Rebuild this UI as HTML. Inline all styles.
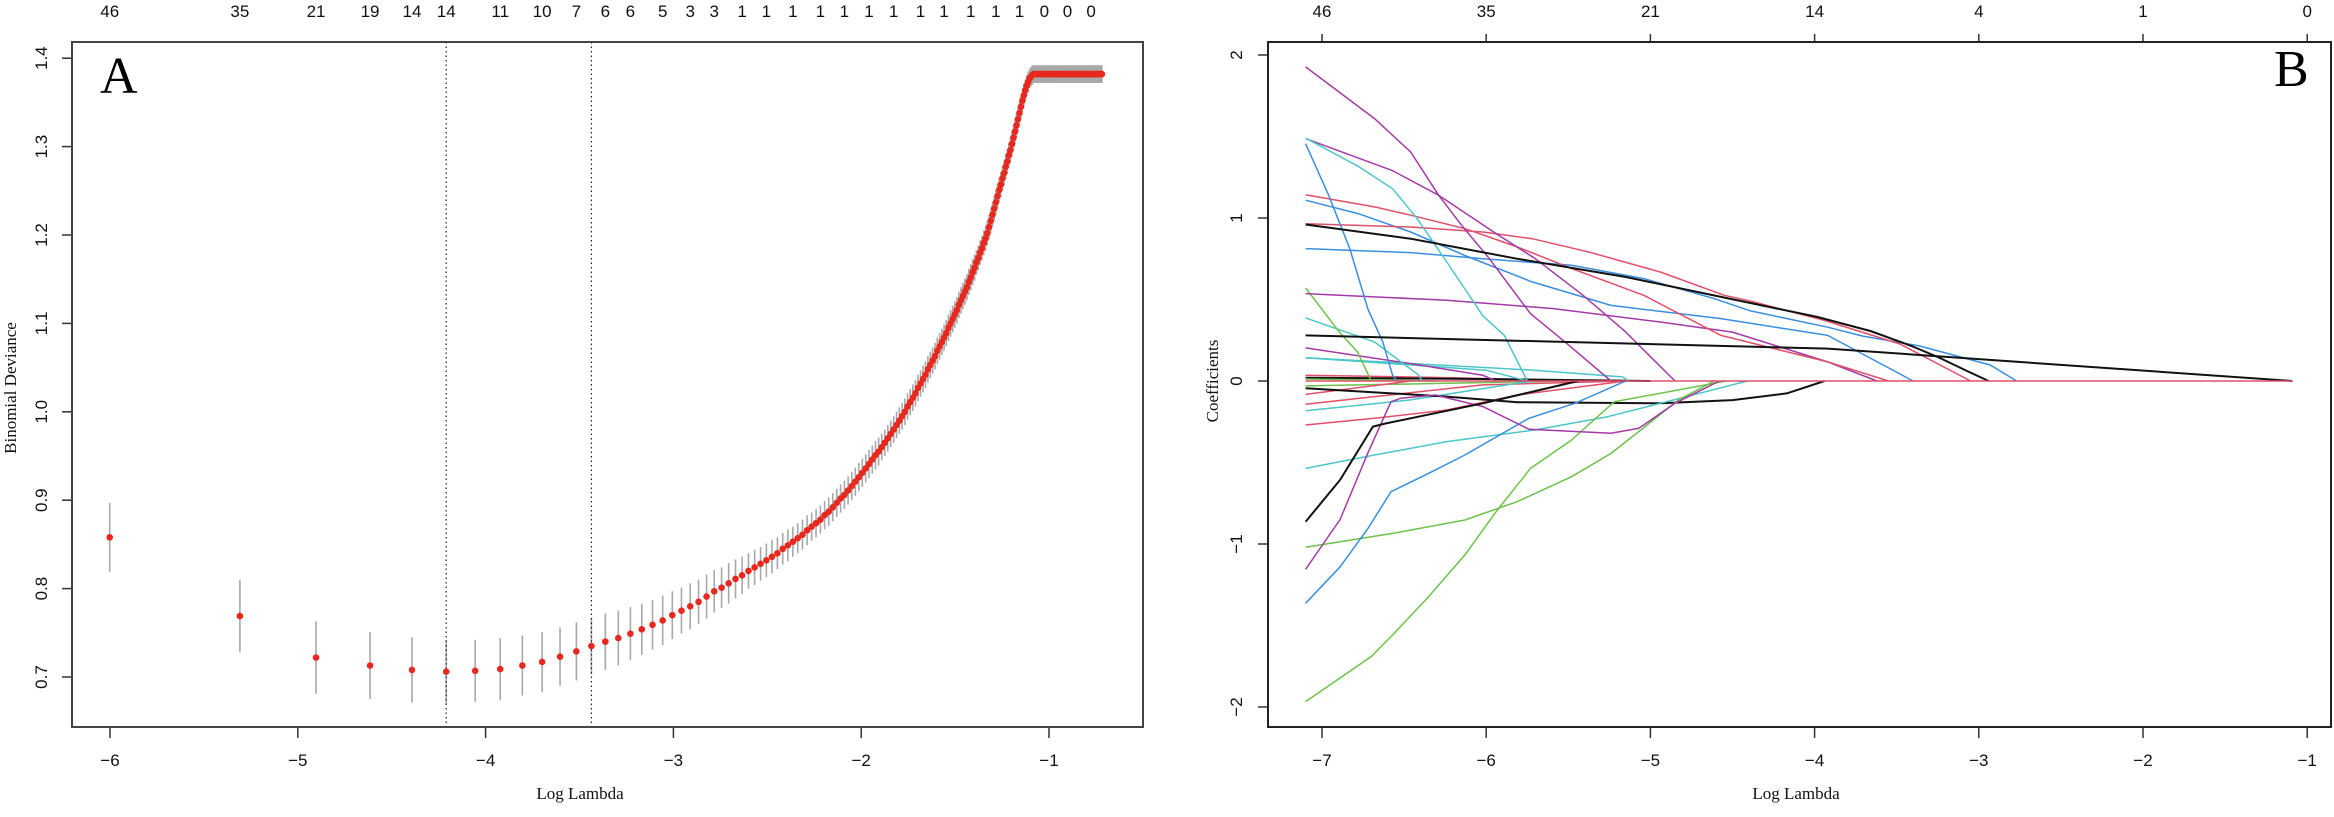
<!DOCTYPE html>
<html><head><meta charset="utf-8"><style>
html,body{margin:0;padding:0;background:#fff;}
svg{display:block;}
.tk{font-family:"Liberation Sans",sans-serif;font-size:17px;fill:#111;}
.tt{font-family:"Liberation Serif",serif;font-size:17px;fill:#111;}
</style></head><body>
<svg id="chart" width="2334" height="817" viewBox="0 0 2334 817" xmlns="http://www.w3.org/2000/svg">
<rect width="2334" height="817" fill="#fff"/>
<g id="pa"></g>
<g id="pb"></g>
</svg>
<script>
// ---------- Panel A data ----------
const lambdaStep = 0.002475;
const devTicks = [0.7,0.8,0.9,1.0,1.1,1.2,1.3,1.4];
const devTickLabels = ["0.7","0.8","0.9","1.0","1.1","1.2","1.3","1.4"];
const logLambdaTicksA = [-6,-5,-4,-3,-2,-1];
const deviance = [
.858,.769,.722,.713,.708,.706,.707,.709,.713,.717,.723,.729,.735,.740,.744,.749,.754,.759,.764,.770,
.775,.780,.785,.791,.797,.801,.806,.811,.815,.820,.824,.828,.832,.836,.840,.845,.849,.853,.857,.861,
.866,.870,.874,.878,.883,.887,.892,.897,.902,.906,.911,.916,.921,.926,.931,.936,.941,.946,.951,.955,
.960,.965,.970,.975,.980,.985,.990,.995,1.000,1.006,1.011,1.016,1.021,1.027,1.032,1.037,1.042,1.048,1.053,1.058,
1.063,1.069,1.074,1.079,1.084,1.089,1.095,1.100,1.105,1.110,1.115,1.121,1.126,1.131,1.136,1.141,1.147,1.152,1.158,1.163,
1.169,1.174,1.180,1.185,1.191,1.196,1.202,1.209,1.216,1.223,1.230,1.237,1.244,1.251,1.257,1.264,1.270,1.277,1.283,1.290,
1.296,1.303,1.310,1.317,1.324,1.331,1.338,1.345,1.352,1.358,1.364,1.369,1.373,1.377,1.379,1.381,1.382,1.382,1.382,1.382,
1.382,1.382,1.382,1.382,1.382,1.382,1.382,1.382,1.382,1.382,1.382,1.382,1.382,1.382,1.382,1.382,1.382,1.382,1.382,1.382,
1.382,1.382,1.382,1.382,1.382,1.382,1.382,1.382,1.382,1.382,1.382,1.382,1.382,1.382,1.382,1.382,1.382,1.382,1.382,1.382,
1.382,1.382,1.382,1.382,1.382,1.382,1.382,1.382,1.382,1.382,1.382,1.382,1.382,1.382,1.382,1.382,1.382];
const devSE = [
.039,.041,.041,.038,.037,.036,.035,.035,.034,.034,.033,.033,.032,.032,.031,.030,.029,.028,.028,.027,
.026,.026,.025,.025,.024,.023,.023,.022,.021,.020,.020,.019,.019,.019,.018,.018,.018,.017,.017,.017,
.017,.016,.016,.016,.016,.016,.016,.016,.016,.016,.016,.016,.016,.016,.016,.016,.016,.016,.016,.016,
.015,.015,.015,.015,.015,.015,.015,.015,.015,.015,.015,.015,.015,.015,.015,.015,.015,.015,.015,.015,
.015,.015,.015,.015,.015,.015,.015,.015,.015,.015,.015,.015,.015,.015,.015,.015,.015,.015,.015,.015,
.014,.014,.014,.014,.014,.014,.014,.014,.014,.014,.014,.014,.014,.014,.014,.014,.014,.014,.014,.014,
.014,.014,.014,.014,.014,.014,.013,.013,.013,.013,.012,.012,.012,.011,.011,.011,.010,.010,.010,.010,
.010,.010,.010,.010,.010,.010,.010,.010,.010,.010,.010,.010,.010,.010,.010,.010,.010,.010,.010,.010,
.010,.010,.010,.010,.010,.010,.010,.010,.010,.010,.010,.010,.010,.010,.010,.010,.010,.010,.010,.010,
.010,.010,.010,.010,.010,.010,.010,.010,.010,.010,.010,.010,.010,.010,.010,.010,.010];
const topIdxA = [1,2,3,4,5,6,8,10,12,14,16,19,22,25,29,33,38,44,50,57,65,75,85,98,112,127,145,164,186];
const topLabelsA = ["46","35","21","19","14","14","11","10","7","6","6","5","3","3","1","1","1","1","1","1","1","1","1","1","1","1","0","0","0"];
const lambdaMinIdx = 6;
const lambda1seIdx = 13;

// ---------- Panel B data ----------
const coefTicks = [-2,-1,0,1,2];
const coefTickLabels = ["\u22122","\u22121","0","1","2"];
const logLambdaTicksB = [-7,-6,-5,-4,-3,-2,-1];
const topLabelsB = ["46","35","21","14","4","1","0"];
const cBlack="#111", cRed="#E0506A", cGreen="#6CC24A", cBlue="#3A8EE0", cCyan="#4CC6C9", cPurple="#A33AA5";
const pathColors = [];
const pathL = [];
const pathC = [];
function addPath(col, L, C){ pathColors.push(col); pathL.push(L); pathC.push(C); }
// near-zero paths first (drawn underneath)
addPath(cGreen,[-7.1,-5.5],[-0.03,0]);
addPath(cRed,[-7.1,-6.46],[-0.082,0]);
addPath(cRed,[-7.1,-6.68,-6.02,-5.15],[-0.143,-0.096,-0.024,0]);
addPath(cCyan,[-7.1,-6.46,-5.81,-5.7],[-0.182,-0.116,-0.014,0]);
addPath(cRed,[-7.1,-6.68,-6.24,-5.81,-5.15],[-0.27,-0.229,-0.178,-0.086,0]);
addPath(cBlack,[-7.1,-6.24,-5.81,-4.94,-4.50,-4.17,-3.94],[-0.045,-0.096,-0.13,-0.137,-0.117,-0.076,0]);
addPath(cCyan,[-7.1,-6.68,-6.24,-5.70,-5.26,-4.94,-4.41],[-0.536,-0.454,-0.372,-0.30,-0.219,-0.137,0]);
addPath(cGreen,[-7.1,-6.57,-6.13,-5.81,-5.48,-5.24,-5.02,-4.83,-4.61],[-1.02,-0.935,-0.853,-0.74,-0.587,-0.444,-0.27,-0.116,0]);
addPath(cGreen,[-7.1,-6.70,-6.57,-6.35,-6.13,-5.94,-5.73,-5.48,-5.22,-4.61,-4.54],[-1.967,-1.69,-1.558,-1.323,-1.067,-0.802,-0.536,-0.362,-0.127,-0.014,0]);
addPath(cBlue,[-7.1,-6.89,-6.72,-6.58,-6.35,-6.13,-5.74,-5.46,-5.15],[-1.364,-1.14,-0.904,-0.679,-0.566,-0.454,-0.229,-0.137,0]);
addPath(cPurple,[-7.1,-6.89,-6.72,-6.58,-6.52,-6.31,-6.02,-5.74,-5.24,-5.07,-4.85,-4.58],[-1.155,-0.85,-0.44,-0.127,-0.106,-0.086,-0.157,-0.296,-0.321,-0.29,-0.137,0]);
addPath(cBlack,[-7.1,-6.89,-6.69,-6.61,-6.02,-5.44],[-0.863,-0.607,-0.28,-0.26,-0.137,0]);
addPath(cRed,[-7.1,-6.2,-5.5],[0.035,0.02,0]);
addPath(cBlack,[-7.1,-6.0,-5.0],[0.02,0.012,0]);
addPath(cGreen,[-7.1,-6.3],[0.012,0]);
addPath(cCyan,[-7.1,-6.0,-5.75],[0.143,0.066,0]);
addPath(cCyan,[-7.1,-5.71,-5.17,-5.13],[0.143,0.066,0.025,0]);
addPath(cPurple,[-7.1,-6.46,-6.02,-5.94],[0.203,0.107,0.035,0]);
addPath(cCyan,[-7.1,-6.68,-6.41,-6.39],[0.387,0.24,0.035,0]);
addPath(cGreen,[-7.1,-6.894,-6.785,-6.70],[0.571,0.30,0.18,0]);
addPath(cPurple,[-7.1,-6.24,-5.59,-4.94,-4.50,-3.92,-3.62],[0.536,0.495,0.444,0.362,0.30,0.117,0]);
addPath(cBlue,[-7.1,-6.46,-6.02,-5.48,-5.04,-4.61,-4.39,-3.92,-3.71,-3.36,-2.93,-2.77],[0.812,0.788,0.75,0.71,0.628,0.505,0.43,0.33,0.276,0.215,0.098,0]);
addPath(cBlue,[-7.1,-6.78,-6.46,-6.13,-5.72,-5.24,-4.57,-3.92,-3.40],[1.109,1.027,0.914,0.77,0.608,0.464,0.383,0.28,0]);
addPath(cRed,[-7.1,-6.68,-6.46,-6.13,-5.81,-5.48,-5.04,-4.57,-3.92,-3.55],[1.143,1.068,1.017,0.935,0.822,0.69,0.526,0.28,0.117,0]);
addPath(cRed,[-7.1,-6.46,-6.02,-5.72,-5.37,-4.94,-4.55,-4.39,-3.94,-3.48,-3.05],[0.965,0.945,0.914,0.873,0.79,0.669,0.526,0.49,0.372,0.227,0]);
addPath(cBlue,[-7.1,-6.96,-6.83,-6.72,-6.63,-6.57,-6.545],[1.456,1.14,0.81,0.44,0.24,0.035,0]);
addPath(cPurple,[-7.1,-6.57,-6.29,-5.94,-5.70,-5.41,-5.15,-4.85],[1.487,1.29,1.14,0.904,0.75,0.526,0.30,0]);
addPath(cCyan,[-7.1,-6.785,-6.57,-6.42,-6.24,-6.02,-5.89,-5.75],[1.49,1.32,1.18,0.996,0.73,0.40,0.28,0]);
addPath(cPurple,[-7.1,-6.68,-6.46,-6.29,-6.15,-5.98,-5.73,-5.52,-5.24],[1.927,1.61,1.405,1.14,0.955,0.75,0.413,0.24,0]);
addPath(cBlack,[-7.1,-6.46,-5.81,-5.15,-4.57,-3.985,-3.66,-3.41,-3.25,-3.07,-2.94],[0.96,0.873,0.75,0.638,0.516,0.393,0.307,0.215,0.147,0.061,0]);
addPath(cBlack,[-7.1,-3.92,-1.09],[0.28,0.199,0]);
addPath(cRed,[-7.1,-1.09],[0,0]);

const NS="http://www.w3.org/2000/svg";
function mk(parent, tag, attrs, text){
  const e=document.createElementNS(NS,tag);
  for(const k in attrs) e.setAttribute(k,attrs[k]);
  if(text!==undefined) e.textContent=text;
  parent.appendChild(e); return e;
}

// ---------- Panel A ----------
(function(){
  const g=document.getElementById('pa');
  const L0=72,R0=1143,T0=42,B0=727;
  const xA=L=>110+(L+6)*187.8;
  const yA=v=>677-(v-0.7)*884;
  // y ticks
  devTicks.forEach((v,i)=>{
    const y=yA(v);
    const t=mk(g,'line',{x1:L0-10,x2:L0,y1:y,y2:y,stroke:'#333','stroke-width':1.5});
    
    
    const tx=mk(g,'text',{class:'tk',x:0,y:0,'text-anchor':'middle',transform:`translate(47,${y}) rotate(-90)`},devTickLabels[i]);
    
    
  });
  logLambdaTicksA.forEach(v=>{
    const x=xA(v);
    const t=mk(g,'line',{x1:x,x2:x,y1:B0,y2:B0+11,stroke:'#333','stroke-width':1.5});
    
    
    const tx=mk(g,'text',{class:'tk',x:x,y:766,'text-anchor':'middle'},String(v).replace('-','\u2212'));
    
    
  });
  // error bars
  deviance.forEach((v,i)=>{
    const x=xA(Math.log((i+1)*lambdaStep));
    const b=mk(g,'line',{x1:x,x2:x,y1:yA(v-devSE[i]),y2:yA(v+devSE[i]),stroke:'#a8a8a8','stroke-width':1.6});
    
    
  });
  // dotted lines
  [lambdaMinIdx,lambda1seIdx].forEach(k=>{
    const x=xA(Math.log(k*lambdaStep));
    const d=mk(g,'line',{x1:x,x2:x,y1:T0,y2:B0,stroke:'#222','stroke-width':1.2,'stroke-dasharray':'1.5,3'});
    
    
  });
  deviance.forEach((v,i)=>{
    const x=xA(Math.log((i+1)*lambdaStep));
    const c=mk(g,'circle',{cx:x,cy:yA(v),r:3.3,fill:'#E8281E'});
    
    
  });
  topIdxA.forEach((k,i)=>{
    const x=xA(Math.log(k*lambdaStep));
    const tx=mk(g,'text',{class:'tk',x:x,y:17,'text-anchor':'middle'},topLabelsA[i]);
    
    
  });
  const box=mk(g,'rect',{x:L0,y:T0,width:R0-L0,height:B0-T0,fill:'none',stroke:'#444','stroke-width':2});
  
  
  const yt=mk(g,'text',{class:'tt',x:0,y:0,'text-anchor':'middle',transform:'translate(16,388) rotate(-90)'},'Binomial Deviance');
  
  
  const xt=mk(g,'text',{class:'tt',x:580,y:799,'text-anchor':'middle'},'Log Lambda');
  
  
  const pl=mk(g,'text',{x:100,y:93,'font-family':'Liberation Serif, serif','font-size':52,fill:'#000'},'A');
  
  
})();

// ---------- Panel B ----------
(function(){
  const g=document.getElementById('pb');
  const L0=1268,R0=2331,T0=42,B0=727;
  const xB=L=>1322+(L+7)*164.2;
  const yB=c=>381-c*163;
  coefTicks.forEach((v,i)=>{
    const y=yB(v);
    const t=mk(g,'line',{x1:L0-10,x2:L0,y1:y,y2:y,stroke:'#333','stroke-width':1.5});
    
    
    const tx=mk(g,'text',{class:'tk',x:0,y:0,'text-anchor':'middle',transform:`translate(1242,${y}) rotate(-90)`},coefTickLabels[i]);
    
    
  });
  logLambdaTicksB.forEach((v,i)=>{
    const x=xB(v);
    const t=mk(g,'line',{x1:x,x2:x,y1:B0,y2:B0+11,stroke:'#333','stroke-width':1.5});
    
    
    const tx=mk(g,'text',{class:'tk',x:x,y:766,'text-anchor':'middle'},String(v).replace('-','\u2212'));
    
    
    const tt=mk(g,'line',{x1:x,x2:x,y1:T0-8,y2:T0,stroke:'#333','stroke-width':1.5});
    
    
    const tl=mk(g,'text',{class:'tk',x:x,y:17,'text-anchor':'middle'},topLabelsB[i]);
    
    
  });
  pathL.forEach((Ls,i)=>{
    const d=Ls.map((L,j)=>(j?'L':'M')+xB(L).toFixed(1)+' '+yB(pathC[i][j]).toFixed(1)).join(' ');
    const col=pathColors[i];
    const p=mk(g,'path',{d:d,fill:'none',stroke:col,'stroke-width':col===cBlack?2:1.5,'stroke-linejoin':'round'});
    
    
  });
  const box=mk(g,'rect',{x:L0,y:T0,width:R0-L0,height:B0-T0,fill:'none',stroke:'#222','stroke-width':2});
  
  
  const yt=mk(g,'text',{class:'tt',x:0,y:0,'text-anchor':'middle',transform:'translate(1218,381) rotate(-90)'},'Coefficients');
  
  
  const xt=mk(g,'text',{class:'tt',x:1796,y:799,'text-anchor':'middle'},'Log Lambda');
  
  
  const pl=mk(g,'text',{x:2274,y:86,'font-family':'Liberation Serif, serif','font-size':52,fill:'#000'},'B');
  
  
})();
</script>
</body></html>
